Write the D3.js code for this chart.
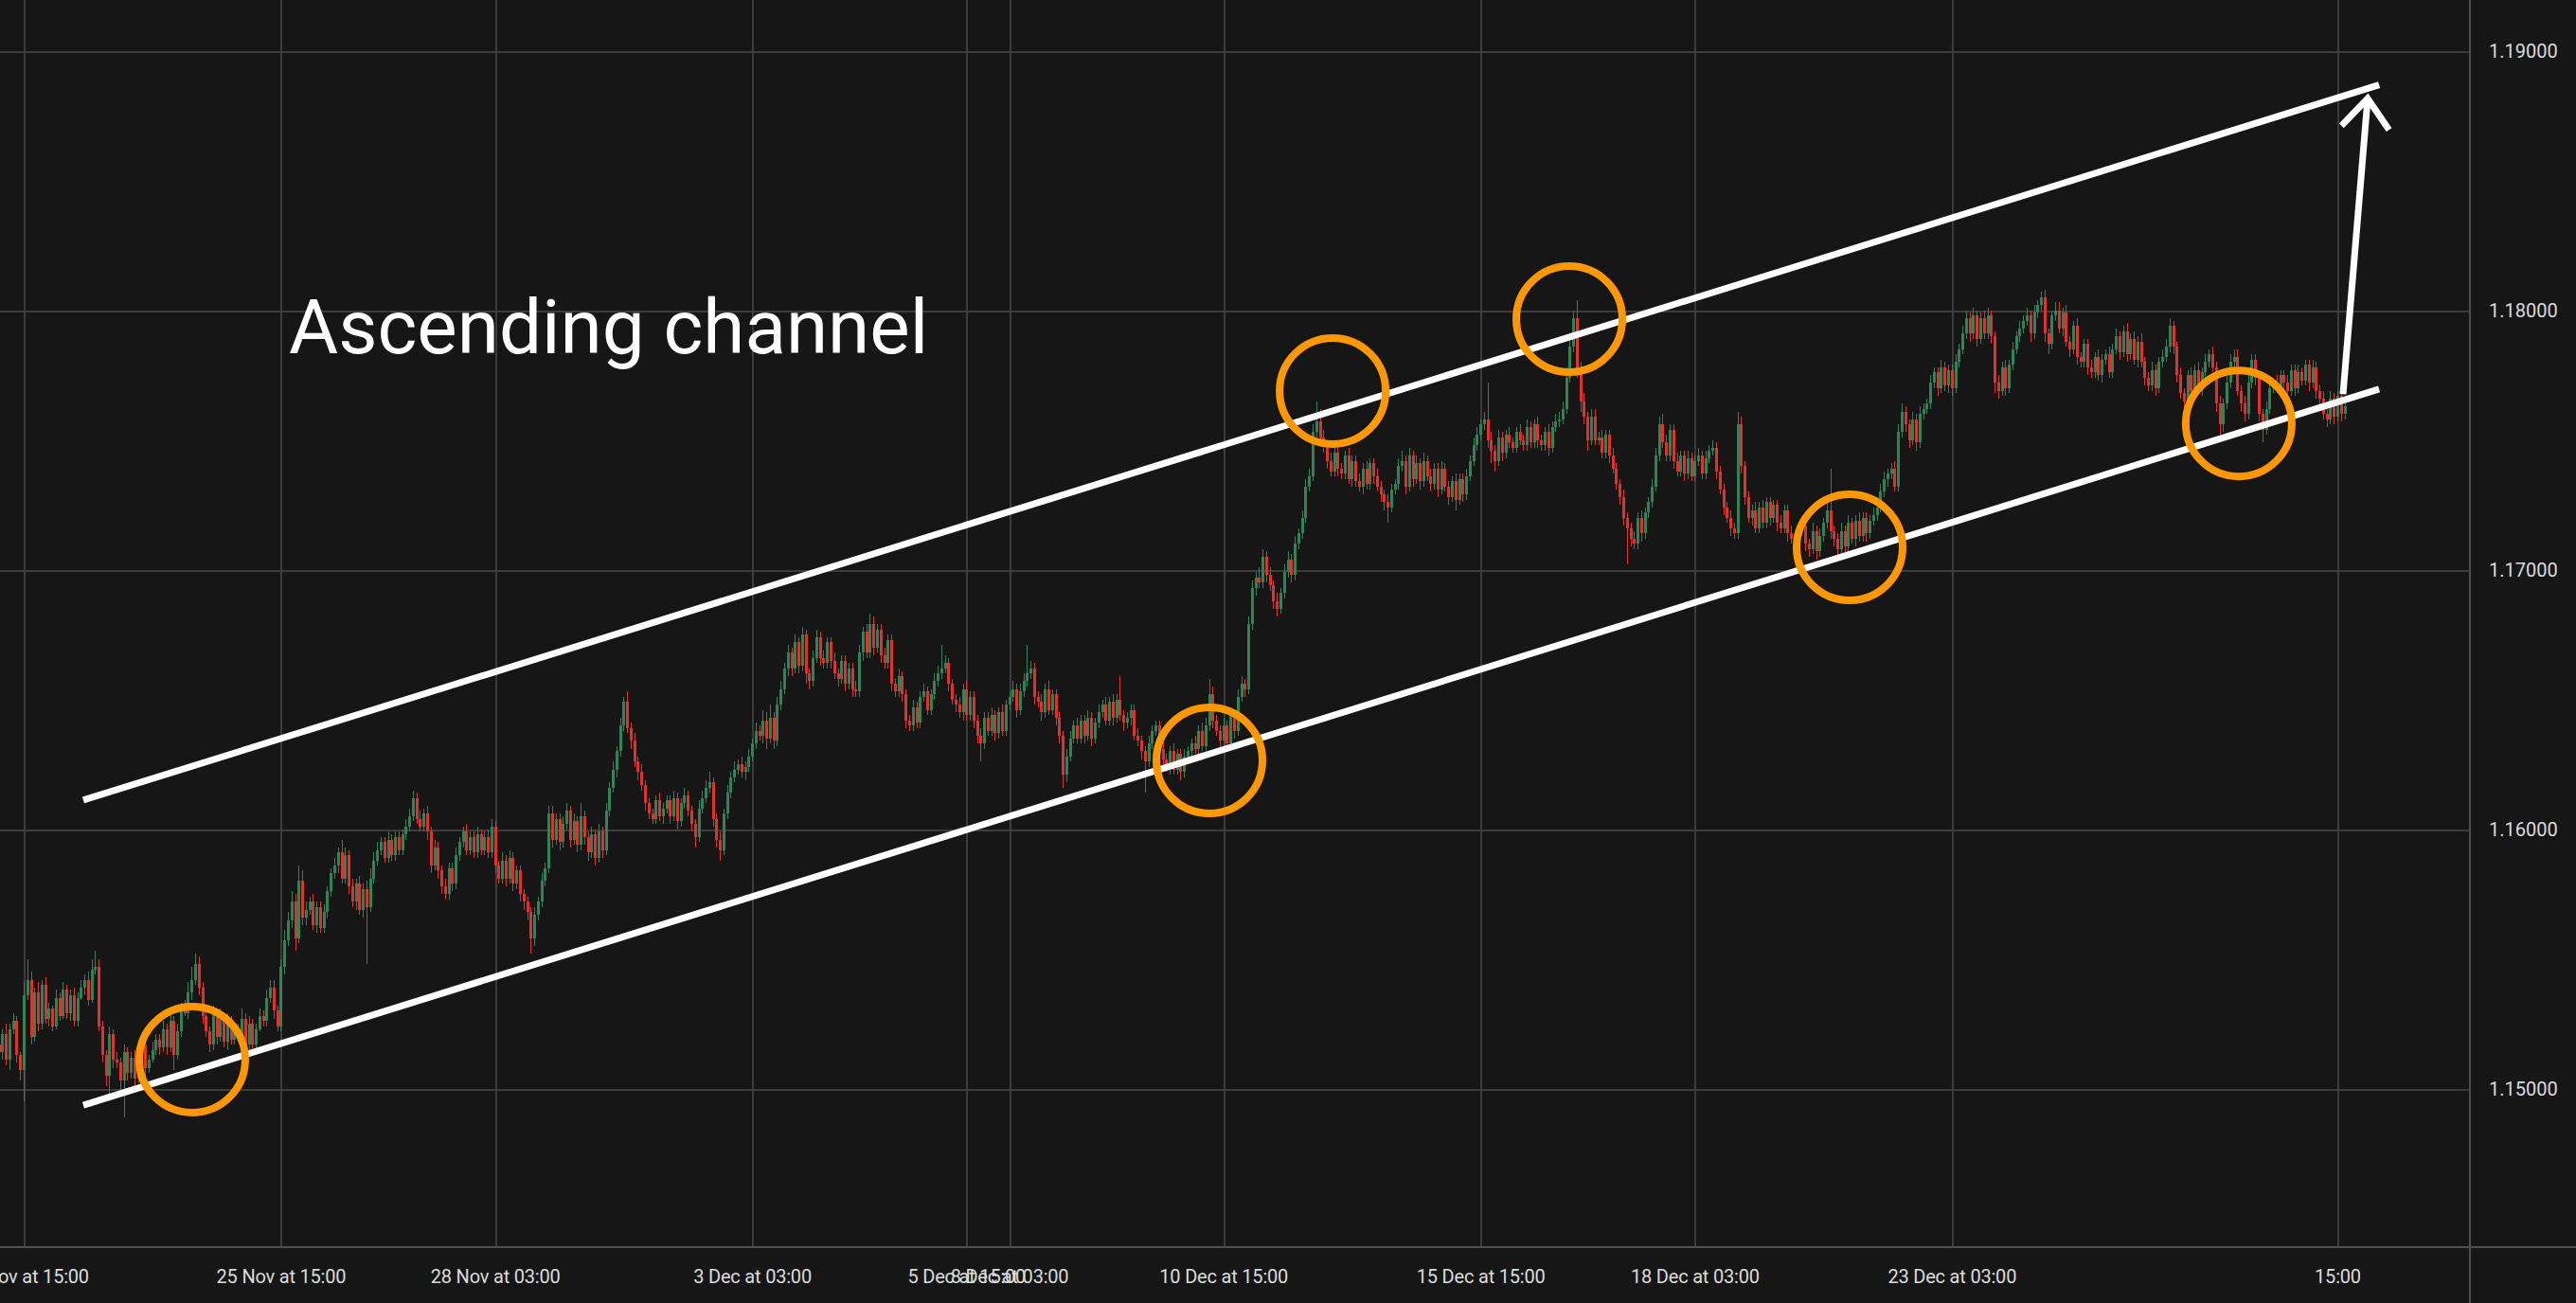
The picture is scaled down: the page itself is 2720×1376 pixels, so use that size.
<!DOCTYPE html>
<html><head><meta charset="utf-8">
<script src="https://cdn.jsdelivr.net/npm/d3@7"></script>
<style>html,body{margin:0;padding:0;background:#161616;overflow:hidden}svg{display:block}</style>
</head><body>
<svg id="chart" width="2720" height="1376"></svg>
<script>
// ---------- DATA ----------
// hourly EURUSD-style candles; values in pips above 1.14000
const firstIndex = -7;
const firstOpen = 117;
const closePips = [114,121,111,123,126,113,107,
136,142,120,137,125,140,127,131,124,135,
128,138,129,136,126,135,139,142,134,146,
147,124,113,105,121,111,110,103,114,106,
112,104,114,117,108,111,115,119,116,123,
116,126,113,122,131,129,137,142,148,139,
128,122,117,129,120,127,118,126,119,122,
120,127,117,125,117,123,128,126,135,139,
130,124,147,157,165,172,158,180,166,169,
172,163,170,162,168,176,183,186,191,181,
190,178,172,179,169,177,170,181,188,192,
195,189,196,190,197,192,198,201,205,212,
204,201,206,199,186,193,184,178,175,185,
179,190,195,199,192,197,191,198,192,197,
191,201,186,181,188,181,189,179,184,175,
172,168,158,167,172,180,185,206,196,204,
195,202,207,196,203,194,205,197,191,198,
189,199,192,207,216,223,230,240,249,239,
234,226,222,217,210,206,204,211,205,208,
211,205,212,203,210,213,207,202,197,208,
212,216,218,204,196,192,206,214,220,223,
225,222,224,228,233,238,236,242,235,243,
234,248,254,262,268,262,272,263,275,260,
257,266,274,266,264,272,265,260,258,265,
256,262,254,253,268,276,268,279,270,277,
267,264,273,256,253,259,252,242,240,247,
241,251,253,246,252,257,260,262,264,256,
250,248,245,254,244,251,242,236,233,243,
238,244,237,245,238,248,251,254,246,253,
257,260,262,251,249,245,254,246,252,243,
236,221,228,235,240,235,242,236,243,235,
241,245,248,242,249,243,250,244,241,243,
246,236,234,230,226,233,238,240,231,227,
224,230,223,229,222,228,230,233,231,238,
232,240,252,242,238,234,240,233,244,238,
251,256,254,279,293,297,295,305,298,294,
288,285,291,299,304,298,310,314,320,332,
336,353,357,351,348,342,338,345,339,337,
344,335,342,334,332,339,333,341,336,332,
329,326,324,331,333,340,342,332,344,335,
341,334,342,336,333,339,331,339,332,328,
334,327,335,329,336,342,348,352,356,358,
350,346,342,351,345,352,349,347,353,350,
348,355,349,356,350,348,353,347,355,357,
358,362,374,386,397,377,365,359,350,359,
350,351,345,352,344,339,333,328,320,316,
312,310,320,314,322,326,332,344,356,349,
344,354,342,338,344,337,343,336,342,344,
337,343,346,347,338,331,324,320,316,314,
356,340,328,320,323,316,324,318,326,320,
325,318,316,323,314,312,309,315,317,310,
308,315,307,313,318,323,315,312,308,315,
309,318,312,319,313,320,314,319,321,324,
330,335,337,339,332,353,361,356,350,358,
349,360,362,364,372,376,370,378,371,377,
370,380,385,391,397,391,398,389,397,391,
398,390,372,369,378,370,379,385,390,393,
396,398,391,399,402,405,391,387,398,400,
393,399,388,385,394,382,380,387,378,376,
382,375,381,383,376,385,390,384,392,383,
389,381,388,380,374,371,377,370,380,382,
386,394,386,375,368,365,375,369,377,370,
376,380,383,378,364,356,364,372,380,382,
369,364,360,372,381,374,360,354,362,370,
372,370,375,372,369,377,370,376,373,379,
372,378,369,366,360,358,366,359,367,360,363];
const wickUpPips = [3,2,4,2,3,2,1,
5,8,3,2,4,2,3,2,1,3,
2,3,2,2,3,2,3,2,3,4,
6,3,2,2,3,2,3,2,3,2,
2,3,2,3,2,2,3,2,2,3,
2,3,2,3,2,3,4,5,4,3,
2,3,2,3,2,4,2,3,2,3,
3,4,2,3,2,2,3,2,3,3,
3,2,3,4,3,4,3,6,4,3,
2,3,2,2,3,2,2,3,2,5,
3,2,3,2,3,2,3,4,3,3,
2,2,3,2,2,2,2,3,3,3,
2,3,2,3,2,3,2,2,3,2,
2,3,2,2,3,2,2,3,2,2,
3,3,2,2,3,2,3,2,2,2,
2,2,2,3,2,3,2,3,3,2,
2,3,3,2,3,2,5,2,2,3,
2,3,2,3,2,3,2,3,2,4,
2,3,2,3,2,2,2,2,3,2,
2,2,3,2,2,3,2,2,2,3,
3,3,4,2,2,3,2,3,2,3,
2,3,2,3,2,3,2,4,3,5,
2,3,3,2,3,2,3,2,3,2,
2,3,3,2,3,2,2,3,2,2,
2,2,2,3,3,2,3,4,3,2,
2,3,2,2,2,3,2,2,2,3,
2,2,3,2,2,3,3,9,3,2,
2,2,3,2,3,2,2,2,3,2,
2,3,2,2,3,2,2,3,2,3,
3,11,3,2,2,3,2,3,2,2,
2,2,3,3,2,3,2,2,3,2,
2,3,2,3,2,3,2,9,2,2,
2,2,3,2,2,3,2,2,2,3,
2,2,3,2,2,3,2,2,3,2,
3,3,6,3,2,2,3,2,3,2,
3,3,2,3,3,2,4,3,2,3,
2,3,2,3,3,2,3,2,3,3,
3,3,8,5,3,2,3,2,3,2,
2,3,2,2,3,2,3,2,2,3,
2,2,3,2,2,3,4,2,3,2,
3,2,3,2,3,2,2,3,2,2,
2,3,2,2,3,2,3,3,2,3,
14,3,2,3,2,2,3,2,2,3,
2,3,2,2,3,2,2,3,2,3,
3,3,4,5,3,7,3,3,2,3,
3,2,3,2,2,3,2,2,3,2,
2,3,2,3,2,2,3,3,3,4,
3,2,2,3,2,2,3,2,2,3,
2,3,2,3,2,2,2,2,3,2,
5,3,2,2,2,3,2,3,2,2,
2,2,3,2,2,3,2,2,3,2,
2,3,2,3,2,3,16,2,2,3,
2,3,2,2,3,2,2,2,3,2,
3,3,2,2,3,3,3,2,2,3,
2,3,2,2,3,2,2,3,2,2,
2,3,2,3,3,2,3,2,2,3,
3,2,2,3,2,3,2,3,2,3,
2,3,2,3,2,2,3,2,2,3,
3,2,3,2,2,3,2,2,2,3,
2,3,2,2,3,2,3,2,2,3,
2,3,2,3,2,2,3,2,2,3,
3,3,2,2,3,2,2,3,2,3,
2,3,2,3,2,3,2,3,3,3,
3,2,3,3,2,2,2,2,3,2,
2,3,2,2,3,2,2,3,2,2,
2,3,2,2,3,2,3,2,2,3,2];
const wickDownPips = [2,3,2,4,2,3,4,
12,2,3,2,3,2,2,3,2,1,
2,1,2,3,2,2,1,3,2,1,
2,2,3,4,8,3,2,4,14,3,
2,3,2,2,3,2,1,2,3,2,
3,2,6,2,2,1,2,3,2,3,
3,2,3,2,3,2,2,3,2,2,
2,2,3,2,3,2,1,2,2,2,
3,2,2,3,2,3,5,2,3,3,
2,2,3,2,2,2,2,2,3,2,
2,3,2,3,2,3,22,2,2,2,
2,2,2,2,2,2,2,2,2,2,
2,2,2,3,3,2,3,3,2,2,
3,2,2,2,2,2,2,2,2,2,
2,2,3,2,2,3,2,3,2,3,
3,3,6,3,2,2,2,2,3,2,
3,2,2,3,2,3,2,3,3,2,
3,2,3,2,2,2,3,2,2,2,
3,2,3,2,3,2,2,2,2,3,
2,3,2,3,2,2,2,3,4,2,
2,2,2,3,3,4,2,2,2,2,
2,2,3,2,2,2,2,3,4,2,
3,2,2,2,3,3,2,3,2,4,
3,2,2,3,2,2,3,2,3,2,
3,2,3,2,2,3,2,2,3,2,
3,2,2,3,2,2,3,3,2,2,
2,2,2,2,2,2,2,2,2,3,
2,3,2,3,2,2,3,3,7,2,
2,2,3,2,2,2,2,2,3,2,
2,2,2,3,2,3,2,2,2,3,
3,5,3,2,2,2,2,3,2,3,
2,2,2,2,2,3,2,2,3,2,
3,2,2,3,12,2,2,2,3,2,
2,3,2,2,3,2,2,2,2,3,
2,2,2,3,2,3,2,2,2,3,
2,2,3,2,2,3,2,2,3,2,
3,3,2,2,2,3,2,2,2,2,
2,2,2,2,3,3,2,2,3,2,
2,2,3,2,2,3,2,2,3,2,
3,3,6,2,2,2,2,3,2,3,
2,3,2,2,3,2,3,2,2,3,
2,4,2,3,2,2,2,2,2,2,
3,5,4,2,3,2,2,2,2,2,
2,2,2,2,3,2,2,3,2,2,
2,2,2,2,2,3,4,3,4,2,
2,2,2,2,3,2,2,3,3,14,
3,2,2,3,2,2,2,2,2,2,
2,2,3,2,2,3,2,2,2,2,
2,2,2,2,3,2,3,2,3,2,
2,3,3,2,3,2,2,2,2,3,
2,3,2,2,3,2,3,2,2,3,
3,2,3,2,2,2,3,3,3,2,
3,2,2,3,2,2,3,2,2,2,
2,2,3,2,2,2,2,3,3,2,
3,2,2,2,2,2,3,2,2,3,
3,2,2,2,2,3,2,3,2,2,
2,3,4,3,2,3,2,2,2,2,
2,2,3,2,2,2,3,4,2,2,
2,3,2,3,2,3,2,2,3,2,
2,2,3,2,2,2,2,3,2,3,
2,2,3,2,3,2,2,3,2,2,
2,2,3,3,2,3,2,2,3,2,
3,2,2,2,3,4,3,2,2,2,
2,3,3,2,2,3,3,5,2,2,
2,2,2,3,2,2,3,2,2,2,
3,2,3,3,2,3,2,3,2,3,2];
const pipBase = 1.14;
const pipSize = 0.0001;

const priceTicks = [1.15, 1.16, 1.17, 1.18, 1.19];
const timeTickIndex = [0, 72, 132, 204, 264, 276, 336, 408, 468, 540, 648];
const timeTickLabels = ["20 Nov at 15:00", "25 Nov at 15:00", "28 Nov at 03:00", "3 Dec at 03:00",
  "5 Dec at 15:00", "8 Dec at 03:00", "10 Dec at 15:00", "15 Dec at 15:00", "18 Dec at 03:00",
  "23 Dec at 03:00", "15:00"];

const titleText = "Ascending channel";
// channel lines: [candle index, price]
const upperChannel = [[16.7, 1.16112], [659.7, 1.18869]];
const lowerChannel = [[16.7, 1.14936], [659.7, 1.17696]];
const breakoutArrow = [[649.6, 1.17677], [656.5, 1.18816]];
// touch points circled on the chart: [candle index, price]
const touchPoints = [[47.2, 1.15112], [332.1, 1.16265], [366.6, 1.17689], [432.9, 1.17966], [511.4, 1.17086], [620.4, 1.17564]];

// ---------- CHART ----------
const W = 2720, H = 1376;
const plotRight = 2607, plotBottom = 1316;
const C = { bg: "#161616", grid: "#3c3c3c", axis: "#4f4f4f", text: "#dcdcdc", up: "#2e8457", down: "#e3302d", ring: "#ff9800", line: "#ffffff" };

const svg = d3.select("#chart");
svg.append("rect").attr("width", W).attr("height", H).attr("fill", C.bg);

const x = d3.scaleLinear().domain([0, 648]).range([25, 25 + 3.77 * 648]);
const y = d3.scaleLinear().domain([1.15, 1.19]).range([1149.6, 53.7]);

svg.append("defs").append("clipPath").attr("id", "plot")
  .append("rect").attr("x", 0).attr("y", 0).attr("width", plotRight).attr("height", plotBottom);

// grid
const grid = svg.append("g").attr("shape-rendering", "crispEdges");
grid.selectAll("line.h").data(priceTicks).join("line")
  .attr("x1", 0).attr("x2", plotRight).attr("y1", d => Math.round(y(d)) + 0.5).attr("y2", d => Math.round(y(d)) + 0.5)
  .attr("stroke", C.grid).attr("stroke-width", 2);
grid.selectAll("line.v").data(timeTickIndex).join("line")
  .attr("y1", 0).attr("y2", plotBottom).attr("x1", d => Math.round(x(d)) + 0.5).attr("x2", d => Math.round(x(d)) + 0.5)
  .attr("stroke", C.grid).attr("stroke-width", 2);

// candles
const n = Math.min(closePips.length, wickUpPips.length, wickDownPips.length);
const candles = [];
for (let k = 0; k < n; k++) {
  const o = k === 0 ? firstOpen : closePips[k - 1];
  const c = closePips[k];
  candles.push({
    i: firstIndex + k,
    o: pipBase + o * pipSize,
    c: pipBase + c * pipSize,
    h: pipBase + (Math.max(o, c) + wickUpPips[k]) * pipSize,
    l: pipBase + (Math.min(o, c) - wickDownPips[k]) * pipSize
  });
}
const cg = svg.append("g").attr("clip-path", "url(#plot)").attr("shape-rendering", "crispEdges");
const cs = cg.selectAll("g").data(candles).join("g")
  .attr("fill", d => d.c >= d.o ? C.up : C.down);
cs.append("rect")
  .attr("x", d => Math.round(x(d.i)))
  .attr("width", 1)
  .attr("y", d => y(d.h))
  .attr("height", d => Math.max(1, y(d.l) - y(d.h)));
cs.append("rect")
  .attr("x", d => Math.round(x(d.i)) - 1)
  .attr("width", 3)
  .attr("y", d => y(Math.max(d.o, d.c)))
  .attr("height", d => Math.max(1.5, Math.abs(y(d.o) - y(d.c))));

// axes frame
svg.append("line").attr("x1", plotRight + 0.5).attr("x2", plotRight + 0.5).attr("y1", 0).attr("y2", H)
  .attr("stroke", C.axis).attr("stroke-width", 2).attr("shape-rendering", "crispEdges");
svg.append("line").attr("x1", 0).attr("x2", W).attr("y1", plotBottom + 0.5).attr("y2", plotBottom + 0.5)
  .attr("stroke", C.axis).attr("stroke-width", 2).attr("shape-rendering", "crispEdges");

// price axis
const yAxis = svg.append("g").attr("transform", `translate(2628,0)`)
  .call(d3.axisRight(y).tickValues(priceTicks).tickFormat(d3.format(".5f")).tickSize(0).tickPadding(0));
yAxis.select(".domain").remove();
yAxis.selectAll("text").attr("fill", C.text).attr("font-family", "Roboto, sans-serif").attr("font-size", 20);

// time axis
const xAxis = svg.append("g").attr("transform", `translate(0,${plotBottom})`)
  .call(d3.axisBottom(x).tickValues(timeTickIndex).tickFormat((d, i) => timeTickLabels[i]).tickSize(0).tickPadding(25));
xAxis.select(".domain").remove();
xAxis.selectAll("text").attr("fill", C.text).attr("font-family", "Roboto, sans-serif").attr("font-size", 20)
  .attr("letter-spacing", "-0.2px");

// annotations
const ann = svg.append("g");
const lineGen = d3.line().x(d => x(d[0])).y(d => y(d[1]));
[upperChannel, lowerChannel].forEach(seg => {
  ann.append("path").attr("d", lineGen(seg)).attr("stroke", C.line).attr("stroke-width", 7).attr("fill", "none");
});
ann.selectAll("circle").data(touchPoints).join("circle")
  .attr("cx", d => x(d[0])).attr("cy", d => y(d[1])).attr("r", 56)
  .attr("fill", "none").attr("stroke", C.ring).attr("stroke-width", 8);

// breakout arrow
const a0 = [x(breakoutArrow[0][0]), y(breakoutArrow[0][1])];
const a1 = [x(breakoutArrow[1][0]), y(breakoutArrow[1][1])];
ann.append("line").attr("x1", a0[0]).attr("y1", a0[1]).attr("x2", a1[0]).attr("y2", a1[1])
  .attr("stroke", C.line).attr("stroke-width", 7);
const ang = Math.atan2(a1[1] - a0[1], a1[0] - a0[0]);
const headLen = 40, headSpread = Math.PI / 4.6;
const wing = s => [a1[0] - headLen * Math.cos(ang + s * headSpread), a1[1] - headLen * Math.sin(ang + s * headSpread)];
ann.append("path").attr("d", d3.line()([wing(1), a1, wing(-1)]))
  .attr("stroke", C.line).attr("stroke-width", 7).attr("fill", "none").attr("stroke-linejoin", "miter");

// title
svg.append("text").attr("x", 305).attr("y", 373).text(titleText)
  .attr("fill", "#ffffff").attr("font-family", "Roboto, sans-serif").attr("font-size", 80);
</script>
</body></html>
